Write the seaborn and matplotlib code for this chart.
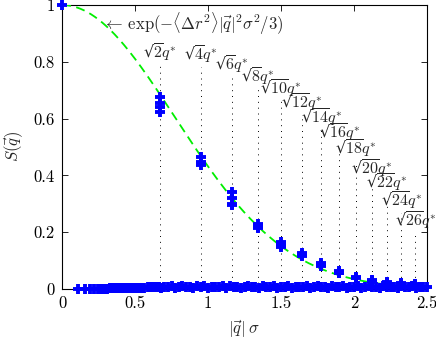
import numpy as np
import pandas as pd
import matplotlib
matplotlib.use("Agg")
import matplotlib.pyplot as plt
import seaborn as sns

# ---- data ----
peak_q = [0.671, 0.949, 1.162, 1.342, 1.500, 1.644, 1.775, 1.898, 2.013, 2.122, 2.226, 2.325, 2.420]
peak_n = ["2", "4", "6", "8", "10", "12", "14", "16", "18", "20", "22", "24", "26"]
label_y = [0.812, 0.805, 0.770, 0.728, 0.688, 0.638, 0.586, 0.530, 0.477, 0.406, 0.354, 0.294, 0.223]

peak_s = [
    [0.675, 0.655, 0.64, 0.625],
    [0.465, 0.448, 0.435],
    [0.34, 0.32, 0.30, 0.295],
    [0.23, 0.215, 0.22],
    [0.165, 0.155, 0.148],
    [0.127, 0.115, 0.12],
    [0.09, 0.08, 0.085],
    [0.062, 0.055, 0.058],
    [0.042, 0.038],
    [0.032, 0.028],
    [0.026, 0.022],
    [0.02, 0.018],
    [0.017, 0.013],
]

origin_q = [0.0]
origin_s = [1.0]

band_q = [0.11, 0.155, 0.19, 0.22, 0.245, 0.27, 0.29, 0.31, 0.33, 0.35, 0.365, 0.38, 0.395,
          0.41, 0.425, 0.44, 0.46, 0.475, 0.49, 0.505, 0.52, 0.535, 0.55, 0.565, 0.59, 0.605,
          0.62, 0.635, 0.65, 0.665, 0.68, 0.70, 0.725, 0.75, 0.775, 0.80, 0.825, 0.85, 0.875,
          0.90, 0.925, 0.95, 0.975, 1.00, 1.025, 1.05, 1.075, 1.10, 1.125, 1.15, 1.175, 1.20,
          1.225, 1.25, 1.275, 1.30, 1.325, 1.35, 1.375, 1.40, 1.425, 1.45, 1.475, 1.50, 1.525,
          1.55, 1.575, 1.60, 1.625, 1.65, 1.675, 1.70, 1.725, 1.75, 1.775, 1.80, 1.825, 1.85,
          1.875, 1.90, 1.925, 1.95, 1.975, 2.00, 2.025, 2.05, 2.075, 2.10, 2.125, 2.15, 2.175,
          2.20, 2.225, 2.25, 2.275, 2.30, 2.325, 2.35, 2.375, 2.40, 2.425, 2.45, 2.475, 2.50]
band_s = [0.0, 0.0, 0.0, 0.0, 0.0, 0.0, 0.0, 0.0, 0.002, 0.002, 0.003, 0.002, 0.003,
          0.002, 0.003, 0.002, 0.003, 0.002, 0.003, 0.002, 0.003, 0.002, 0.003, 0.004, 0.008, 0.006,
          0.007, 0.006, 0.008, 0.007, 0.005, 0.008, 0.006, 0.009, 0.005, 0.007, 0.010, 0.006, 0.008,
          0.005, 0.009, 0.006, 0.011, 0.005, 0.008, 0.006, 0.007, 0.009, 0.005, 0.010, 0.006, 0.008,
          0.005, 0.007, 0.009, 0.006, 0.008, 0.005, 0.010, 0.006, 0.007, 0.009, 0.005, 0.008, 0.006,
          0.010, 0.005, 0.007, 0.008, 0.006, 0.009, 0.005, 0.007, 0.010, 0.006, 0.008, 0.005, 0.009,
          0.006, 0.007, 0.010, 0.005, 0.008, 0.006, 0.009, 0.005, 0.007, 0.010, 0.006, 0.008, 0.005,
          0.009, 0.006, 0.007, 0.008, 0.005, 0.009, 0.006, 0.007, 0.010, 0.005, 0.008, 0.006, 0.007]

msd = 2.52  # <Delta r^2> / sigma^2 used in the model curve
x_ticks = [0, 0.5, 1, 1.5, 2, 2.5]
x_tick_labels = ["0", "0.5", "1", "1.5", "2", "2.5"]
y_ticks = [0, 0.2, 0.4, 0.6, 0.8, 1.0]
y_tick_labels = ["0", "0.2", "0.4", "0.6", "0.8", "1"]

# ---- style ----
sns.set_style("ticks")
plt.rcParams["font.family"] = ["cmr10", "DejaVu Serif"]
plt.rcParams["mathtext.fontset"] = "cm"
plt.rcParams["axes.formatter.use_mathtext"] = True

fig = plt.figure(figsize=(4.36, 3.38), dpi=100)
ax = fig.add_axes([62 / 436, 1 - 289 / 338, 365 / 436, 284 / 338])

# model curve
curve_q = np.linspace(0, 2.5, 300)
curve = pd.DataFrame({"q": curve_q, "S": np.exp(-msd * curve_q ** 2 / 3)})
sns.lineplot(data=curve, x="q", y="S", ax=ax, color="#00ee00", lw=1.3,
             dashes=False, zorder=4)
ax.lines[-1].set_dashes((5, 3))

# dotted guide lines + labels
for q, n, ly in zip(peak_q, peak_n, label_y):
    ax.vlines(q, 0, ly - 0.025, colors="k", linestyles=(0, (1, 5)), lw=0.7, zorder=1)
    lab = "\u221a" + r"$\overline{" + n + r"}q^{*}$"
    ax.text(q, ly, lab, ha="center", va="baseline", fontsize=11.5, clip_on=False,
            family=["DejaVu Serif"])

# markers
pts_q, pts_s = [], []
for q, vals in zip(peak_q, peak_s):
    for v in vals:
        pts_q.append(q)
        pts_s.append(v)
pts = pd.DataFrame({"q": origin_q + band_q + pts_q, "S": origin_s + band_s + pts_s})
sns.scatterplot(data=pts, x="q", y="S", ax=ax, marker="+", s=60, linewidth=2.8,
                color="#0000ff", zorder=5, clip_on=False)

ax.text(0.28, 0.912, r"$\leftarrow\,\exp(-\langle\Delta r^2\rangle|\vec{q}|^2\sigma^2/3)$",
        ha="left", va="baseline", fontsize=12)

ax.set_xlim(0, 2.5)
ax.set_ylim(0, 1)
ax.set_xticks(x_ticks)
ax.set_xticklabels(x_tick_labels)
ax.set_yticks(y_ticks)
ax.set_yticklabels(y_tick_labels)
ax.tick_params(direction="in", top=True, right=True, length=4, width=0.6,
               labelsize=12, colors="k", pad=5)
for sp in ax.spines.values():
    sp.set_visible(True)
    sp.set_linewidth(0.8)
    sp.set_color("k")
ax.set_xlabel(r"$|\vec{q}|\;\sigma$", fontsize=12, labelpad=5)
ax.set_ylabel(r"$S(\vec{q})$", fontsize=12, labelpad=6)
ax.grid(False)

fig.savefig("out.png", dpi=100)
